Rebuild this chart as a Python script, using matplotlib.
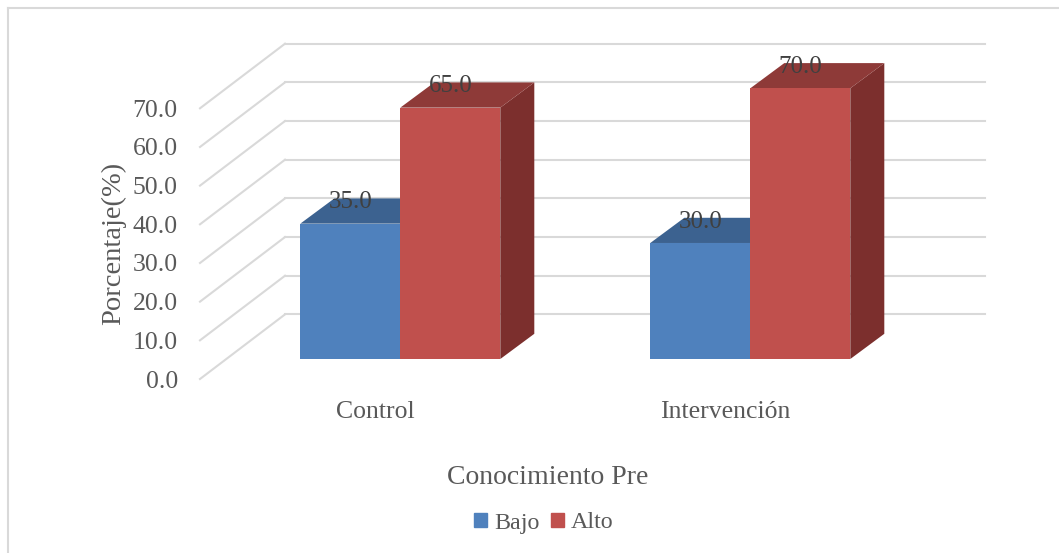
import matplotlib
matplotlib.use("Agg")
import matplotlib.pyplot as plt
from matplotlib.lines import Line2D

categories = ["Control", "Intervención"]
bajo = [35.0, 30.0]
alto = [65.0, 70.0]
yticks = [0, 10, 20, 30, 40, 50, 60, 70]

W, H = 1059, 553
plt.rcParams["font.family"] = ["Liberation Serif", "DejaVu Serif"]
TXT = "#595959"
GRID = "#d9d9d9"

fig = plt.figure(figsize=(W / 100, H / 100), dpi=100)
# front plane of the fake 3d box, in pixels: x 200-900, y 379-108.3
ax = fig.add_axes([200 / W, 1 - 379 / H, 700 / W, 270.7 / H])
ax.set_xlim(-0.5, 1.5)
ax.set_ylim(0, 70)
ax.patch.set_visible(False)
for s in ax.spines.values():
    s.set_visible(False)

ux = 350.0            # px per category
uy = 270.7 / 70       # px per percent
wall_dx = 85 / ux
wall_dy = 64.6 / uy
bar_dx = 34 / ux
bar_dy = 25.2 / uy
base = 20 / uy
bar_w = 100 / ux
shift = 25.3 / ux
label_drop = 4 / uy

def poly(xs, ys, color, z):
    ax.fill(xs, ys, color=color, lw=0, clip_on=False, zorder=z)

def bar3d(left, val, front, top, side, z):
    right = left + bar_w
    h = base + val
    poly([right, right + bar_dx, right + bar_dx, right], [base, base + bar_dy, h + bar_dy, h], side, z)
    poly([left, right, right + bar_dx, left + bar_dx], [h, h, h + bar_dy, h + bar_dy], top, z)
    poly([left, right, right, left], [base, base, h, h], front, z + 0.1)
    ax.text(left + bar_w / 2, h + bar_dy - label_drop, f"{val:.1f}", ha="center", va="center",
            fontsize=18, color="#404040", zorder=5)

# walls
for v in yticks:
    ax.plot([-0.5, -0.5 + wall_dx], [v, v + wall_dy], color=GRID, lw=1.5, clip_on=False, zorder=1)
    ax.plot([-0.5 + wall_dx, 1.5 + wall_dx], [v + wall_dy, v + wall_dy], color=GRID, lw=1.5, clip_on=False, zorder=1)

for i in range(len(categories)):
    bar3d(i + shift - bar_w, bajo[i], "#4f81bd", "#3c6290", "#365a85", 2)
    bar3d(i + shift, alto[i], "#c0504d", "#8e3a38", "#7c2f2d", 3)

ax.set_yticks(yticks)
ax.set_yticklabels([f"{v:.1f}" for v in yticks])
ax.set_xticks(range(len(categories)))
ax.set_xticklabels(categories)
ax.tick_params(axis="y", length=0, pad=16, labelsize=18.5, labelcolor=TXT)
ax.tick_params(axis="x", length=0, pad=15.5, labelsize=18.5, labelcolor=TXT)

ax.set_ylabel("Porcentaje(%)", fontsize=20.5, color=TXT, va="center")
ax.yaxis.set_label_coords((114 - 200) / 700, (379 - 243) / 270.7)
ax.set_xlabel("Conocimiento Pre", fontsize=20, color=TXT, va="center")
ax.xaxis.set_label_coords((548 - 200) / 700, (379 - 477) / 270.7)

handles = [plt.Rectangle((0, 0), 1, 1, color="#4f81bd"), plt.Rectangle((0, 0), 1, 1, color="#c0504d")]
fig.legend(handles, ["Bajo", "Alto"], loc="center", bbox_to_anchor=(544 / W, 1 - 523 / H), ncol=2,
           frameon=False, fontsize=17.3, labelcolor=TXT, handlelength=0.55, handleheight=0.55,
           handletextpad=0.3, columnspacing=0.45)

# chart frame, only top and left show
fig.add_artist(Line2D([8 / W, 8 / W], [0, 1 - 8 / H], color=GRID, lw=1.5))
fig.add_artist(Line2D([8 / W, 1], [1 - 8 / H, 1 - 8 / H], color=GRID, lw=1.5))

fig.savefig("out.png", dpi=100)
